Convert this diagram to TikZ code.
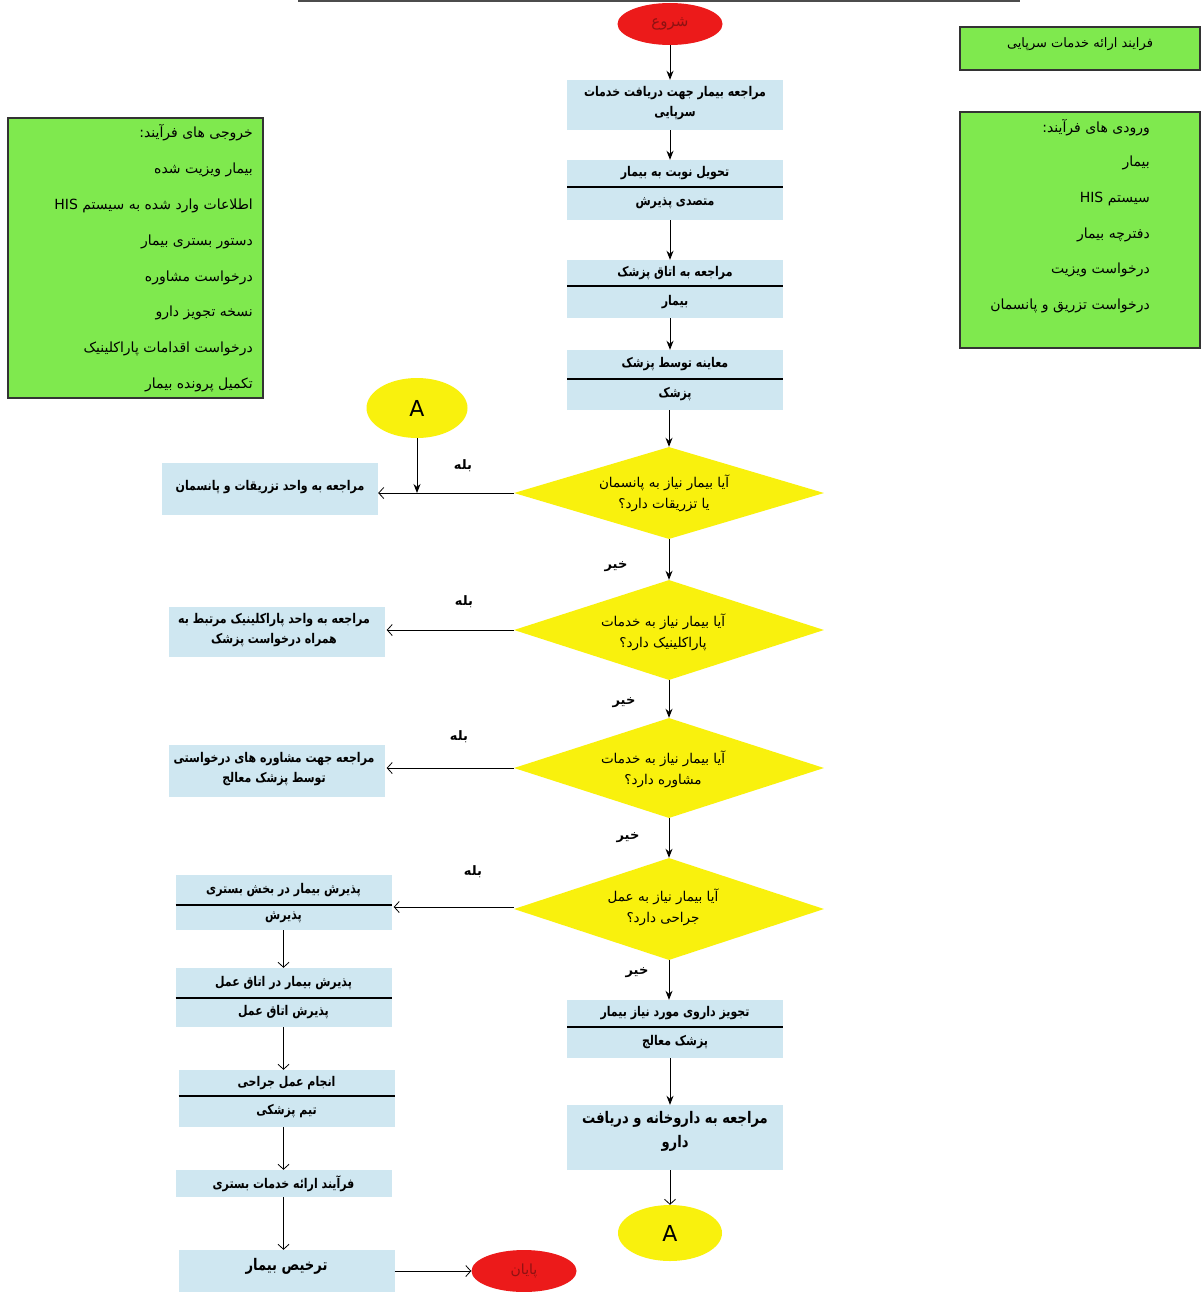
\documentclass[tikz,border=0pt]{standalone}
\usepackage{fontspec}
\usepackage{graphicx}
\usetikzlibrary{shapes.geometric,arrows.meta,calc}
\TeXXeTstate=1
\newfontfamily\ar[Script=Arabic]{DejaVu Sans}
\definecolor{lblue}{HTML}{CFE7F1}
\definecolor{grn}{HTML}{7FE94E}
\definecolor{ylw}{HTML}{F9F10D}
\definecolor{rd}{HTML}{EC1A1A}
\definecolor{rdt}{HTML}{8E1212}
\newcommand\nr[1]{\scalebox{0.82}[1]{#1}}
\newcommand\splitbx[7]{%
\node[bx, minimum height={(#5-#3)*1pt}] (#1) at (#2,{(#3+#5)/2}) {};
\draw[dv] ({#2-108},#4) -- ({#2+108},#4);
\node[bt] (#1a) at (#2,{(#3+#4)/2}) {\nr{#6}};
\node[bt] (#1b) at (#2,{(#4+#5)/2}) {\nr{#7}};}
\begin{document}
\begin{tikzpicture}[x=1pt,y=-1pt,
  bx/.style={fill=lblue, draw=none, minimum width=216pt, inner sep=0},
  bt/.style={font=\ar\bfseries\fontsize{13.4}{20}\selectfont, align=center, inner sep=0},
  btl/.style={font=\ar\bfseries\fontsize{16}{24}\selectfont, align=center, inner sep=0},
  dv/.style={line width=1.2pt, black},
  dia/.style={diamond, fill=ylw, draw=none, minimum width=310pt, minimum height=100pt, inner sep=0},
  dt/.style={font=\ar\fontsize{13.5}{21}\selectfont, align=center, inner sep=0},
  ov/.style={ellipse, draw=none, inner sep=0},
  gbox/.style={fill=grn, draw=black!80, line width=1.4pt},
  gt/.style={font=\ar\fontsize{14}{16}\selectfont, anchor=east, inner sep=0},
  lbl/.style={font=\ar\bfseries\fontsize{13}{15}\selectfont, inner sep=0},
  arF/.style={-{Stealth[length=9pt,width=7pt]}, line width=0.9pt},
  arO/.style={-{Straight Barb[length=5pt,width=11pt]}, line width=0.8pt}]
\useasboundingbox (0,0) rectangle (1202,1292);
\fill[white] (0,0) rectangle (1202,1292);
\draw[line width=2pt, black!70] (298,1) -- (1020,1);

% right green boxes
\node[gbox, minimum width=240pt, minimum height=43pt, inner sep=0] (g1) at (1080,48.5) {};
\node[font=\ar\fontsize{13}{15}\selectfont, inner sep=0] (g1t) at (1080,44) {\beginR فرایند ارائه خدمات سرپایی\endR};
\node[gbox, minimum width=240pt, minimum height=236pt, inner sep=0] (g2) at (1080,230) {};
\node[gt] (g2a) at (1150,128) {\beginR ورودی های فرآیند:\endR};
\node[gt] (g2b) at (1150,163) {\beginR بیمار\endR};
\node[gt] (g2c) at (1150,199) {\beginR سیستم \beginL HIS\endL\endR};
\node[gt] (g2d) at (1150,235) {\beginR دفترچه بیمار\endR};
\node[gt] (g2e) at (1150,270) {\beginR درخواست ویزیت\endR};
\node[gt] (g2f) at (1150,306) {\beginR درخواست تزریق و پانسمان\endR};

% left green box
\node[gbox, minimum width=255pt, minimum height=280pt, inner sep=0] (g3) at (135.5,258) {};
\node[gt] (g3a) at (253,133) {\beginR خروجی های فرآیند:\endR};
\node[gt] (g3b) at (253,170) {\beginR بیمار ویزیت شده\endR};
\node[gt] (g3c) at (253,206) {\beginR اطلاعات وارد شده به سیستم \beginL HIS\endL\endR};
\node[gt] (g3d) at (253,242) {\beginR دستور بستری بیمار\endR};
\node[gt] (g3e) at (253,278) {\beginR درخواست مشاوره\endR};
\node[gt] (g3f) at (253,313) {\beginR نسخه تجویز دارو\endR};
\node[gt] (g3g) at (253,349) {\beginR درخواست اقدامات پاراکلینیک\endR};
\node[gt] (g3h) at (253,385) {\beginR تکمیل پرونده بیمار\endR};

% central column
\node[ov, fill=rd, minimum width=105pt, minimum height=42pt, font=\ar\fontsize{15}{17}\selectfont, text=rdt] (start) at (670,24) {\beginR شروع\endR};
\node[bx, minimum height=50pt] (b1) at (675,105) {};
\node[bt] (b1t) at (675,103) {\nr{\beginR مراجعه بیمار جهت دریافت خدمات\endR}\\\nr{\beginR سرپایی\endR}};
\splitbx{b2}{675}{160}{187}{220}{\beginR تحویل نوبت به بیمار\endR}{\beginR متصدی پذیرش\endR}
\splitbx{b3}{675}{260}{286}{318}{\beginR مراجعه به اتاق پزشک\endR}{\beginR بیمار\endR}
\splitbx{b4}{675}{350}{379}{410}{\beginR معاینه توسط پزشک\endR}{\beginR پزشک\endR}

\node[dia, minimum height=92pt] (d1) at (669,493) {};
\node[dt] (d1t) at (664,493) {\beginR آیا بیمار نیاز به پانسمان\endR\\\beginR یا تزریقات دارد؟\endR};
\node[dia] (d2) at (669,630) {};
\node[dt] (d2t) at (663,632) {\beginR آیا بیمار نیاز به خدمات\endR\\\beginR پاراکلینیک دارد؟\endR};
\node[dia] (d3) at (669,768) {};
\node[dt] (d3t) at (663,769) {\beginR آیا بیمار نیاز به خدمات\endR\\\beginR مشاوره دارد؟\endR};
\node[dia, minimum height=102pt] (d4) at (669,909) {};
\node[dt] (d4t) at (663,907) {\beginR آیا بیمار نیاز به عمل\endR\\\beginR جراحی دارد؟\endR};

\splitbx{r5}{675}{1000}{1027}{1058}{\beginR تجویز داروی مورد نیاز بیمار\endR}{\beginR پزشک معالج\endR}
\node[bx, minimum height=65pt] (r6) at (675,1137.5) {};
\node[btl] (r6t) at (675,1131) {\nr{\beginR مراجعه به داروخانه و دریافت\endR}\\\nr{\beginR دارو\endR}};
\node[ov, fill=ylw, minimum width=104pt, minimum height=56pt, font=\ar\fontsize{22}{24}\selectfont] (aB) at (670,1233) {A};

% connector A top
\node[ov, fill=ylw, minimum width=101pt, minimum height=60pt, font=\ar\fontsize{22}{24}\selectfont] (aT) at (417,408) {A};

% left column
\node[bx, minimum height=52pt] (l1) at (270,489) {};
\node[bt] (l1t) at (270,487) {\nr{\beginR مراجعه به واحد تزریقات و پانسمان\endR}};
\node[bx, minimum height=50pt] (l2) at (276.5,632) {};
\node[bt] (l2t) at (274,630) {\nr{\beginR مراجعه به واحد پاراکلینیک مرتبط به\endR}\\\nr{\beginR همراه درخواست پزشک\endR}};
\node[bx, minimum height=52pt] (l3) at (276.5,771) {};
\node[bt] (l3t) at (274,769) {\nr{\beginR مراجعه جهت مشاوره های درخواستی\endR}\\\nr{\beginR توسط پزشک معالج\endR}};
\splitbx{l4}{283.5}{875}{905}{930}{\beginR پذیرش بیمار در بخش بستری\endR}{\beginR پذیرش\endR}
\splitbx{l5}{283.5}{968}{998}{1027}{\beginR پذیرش بیمار در اتاق عمل\endR}{\beginR پذیرش اتاق عمل\endR}
\splitbx{l6}{286.5}{1070}{1096}{1127}{\beginR انجام عمل جراحی\endR}{\beginR تیم پزشکی\endR}
\node[bx, minimum height=27pt] (l7) at (283.5,1183.5) {};
\node[bt] (l7t) at (283.5,1184) {\nr{\beginR فرآیند ارائه خدمات بستری\endR}};
\node[bx, minimum height=42pt] (l8) at (286.5,1271) {};
\node[btl] (l8t) at (286.5,1266) {\nr{\beginR ترخیص بیمار\endR}};
\node[ov, fill=rd, minimum width=105pt, minimum height=42pt, font=\ar\fontsize{14}{16}\selectfont, text=rdt] (end) at (524,1271) {\beginR پایان\endR};

% labels
\node[lbl] (y1) at (463,466) {\beginR بله\endR};
\node[lbl] (y2) at (464,602) {\beginR بله\endR};
\node[lbl] (y3) at (459,737) {\beginR بله\endR};
\node[lbl] (y4) at (473,872) {\beginR بله\endR};
\node[lbl] (n1) at (616,567) {\beginR خیر\endR};
\node[lbl] (n2) at (624,703) {\beginR خیر\endR};
\node[lbl] (n3) at (628,838) {\beginR خیر\endR};
\node[lbl] (n4) at (637,973) {\beginR خیر\endR};

% connectors, central column
\draw[arF] (start.south) -- (start.south |- b1.north);
\draw[arF] (b1.south -| start) -- (b2.north -| start);
\draw[arF] (b2.south -| start) -- (b3.north -| start);
\draw[arF] (b3.south -| start) -- (b4.north -| start);
\draw[arF] (b4.south -| d1) -- (d1.north);
\draw[arF] (d1.south) -- (d2.north);
\draw[arF] (d2.south) -- (d3.north);
\draw[arF] (d3.south) -- (d4.north);
\draw[arF] (d4.south) -- (d4.south |- r5.north);
\draw[arF] (r5.south -| aB) -- (r6.north -| aB);
\draw[arO] (r6.south -| aB) -- (aB.north);

% yes branches
\draw[arO] (d1.west) -- (d1.west -| l1.east);
\draw[arF] (aT.south) -- (aT.south |- d1.west);
\draw[arO] (d2.west) -- ([xshift=2pt]d2.west -| l2.east);
\draw[arO] (d3.west) -- ([xshift=2pt]d3.west -| l3.east);
\draw[arO] ([yshift=2pt]d4.west) -- ([xshift=2pt,yshift=2pt]d4.west -| l4.east);

% left column
\draw[arO] (l4.south) -- (l4.south |- l5.north);
\draw[arO] (l5.south) -- (l5.south |- l6.north);
\draw[arO] (l6.south -| l5) -- (l7.north);
\draw[arO] (l7.south) -- (l7.south |- l8.north);
\draw[arO] (l8.east) -- (end.west);
\end{tikzpicture}
\end{document}
